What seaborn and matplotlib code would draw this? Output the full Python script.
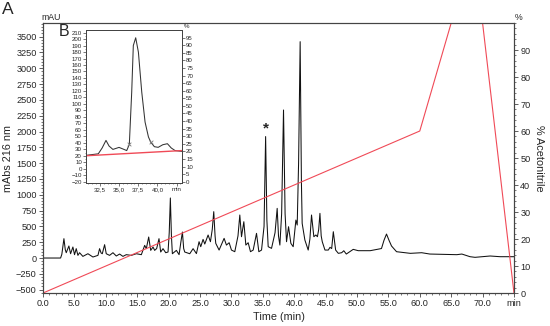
import matplotlib
matplotlib.use("Agg")
import matplotlib.pyplot as plt
import seaborn as sns
import pandas as pd
from matplotlib.ticker import MultipleLocator

# main chromatogram
time_min = [0.0, 2.8, 3.0, 3.33, 3.55, 3.70, 4.12, 4.39, 4.76, 5.02, 5.29, 5.56, 5.82, 6.35,
            7.15, 7.95, 8.75, 9.01, 9.25, 9.44, 9.81, 10.07, 10.6, 11.14, 11.67, 12.2, 12.73,
            13.26, 14.06, 14.86, 15.66, 16.19, 16.45, 16.83, 17.15, 17.52, 17.78, 18.1, 18.47,
            18.74, 19.11, 19.54, 19.91, 20.1, 20.28, 20.45, 20.6, 21.24, 21.67, 21.95, 22.2,
            22.4, 22.57, 23.37, 23.9, 24.43, 24.85, 25.12, 25.49, 25.76, 26.29, 26.66, 26.95,
            27.19, 27.4, 27.51, 28.04, 28.84, 29.21, 29.64, 30.01, 30.54, 31.05, 31.34, 31.61,
            31.98, 32.3, 32.67, 33.04, 33.47, 34.0, 34.37, 34.8, 35.2, 35.45, 35.65, 35.86,
            36.39, 36.95, 37.29, 37.5, 37.72, 38.0, 38.3, 38.55, 38.78, 39.1, 39.47, 39.84,
            40.27, 40.48, 40.7, 40.95, 41.15, 41.27, 41.7, 42.23, 42.5, 42.76, 43.13, 43.45,
            43.7, 43.9, 44.1, 44.3, 44.47, 44.9, 45.43, 45.7, 45.97, 46.23, 46.6, 47.03, 47.56,
            47.9, 48.3, 49.4, 50.2, 52.1, 53.9, 54.3, 54.7, 55.1, 55.5, 56.3, 58.5, 60.3, 61.6,
            65.9, 66.7, 68.0, 68.8, 71.2, 72.8, 75.0]
mabs = [0, 0, 60, 306, 130, 84, 190, 68, 174, 53, 148, 42, 84, 26,
        68, 16, 42, 148, 80, 68, 211, 68, 42, 84, 32, 63, 26,
        53, 42, 68, 53, 200, 148, 332, 121, 174, 121, 150, 306,
        95, 148, 84, 95, 400, 949, 350, 68, 121, 53, 250, 411,
        150, 95, 68, 148, 70, 258, 179, 295, 221, 364, 258, 450,
        733, 350, 232, 126, 311, 205, 242, 126, 100, 350, 680, 337,
        574, 205, 242, 100, 126, 390, 100, 126, 500, 1920, 600, 179,
        153, 400, 785, 350, 205, 700, 2340, 700, 258, 495, 232, 179,
        600, 522, 1500, 3420, 1200, 548, 285, 126, 300, 680, 337, 364,
        337, 450, 706, 350, 258, 126, 126, 169, 150, 416, 126, 74, 84,
        115, 63, 137, 116, 116, 150, 280, 379, 280, 190, 100, 74, 84, 63,
        53, 63, 21, 11, 32, 21, 21]

# acetonitrile gradient
grad_time = [0, 60, 65, 70, 75]
grad_acn = [0, 60, 100, 100, 0]

# inset B
inset_time = [30.6, 32.3, 32.8, 33.3, 33.7, 34.2, 35.0, 35.6, 36.0, 36.34, 36.65, 36.86,
              37.17, 37.52, 37.96, 38.39, 38.83, 39.13, 39.6, 40.1, 40.7, 41.3, 41.8, 42.3, 43.2]
inset_mabs = [20.5, 23, 32, 43.7, 35, 29.8, 32.9, 30, 28, 37.5, 118, 190,
              202, 180, 118, 72, 49, 41, 34, 33, 37, 38.6, 32, 28, 26.7]
inset_base_time = [30.7, 43.2]
inset_base_mabs = [20, 28]
inset_mark_time = [36.34, 39.13]
inset_mark_mabs = [37.5, 41]

star_time = 35.45
star_mabs = 1920

x_ticks = [0, 5, 10, 15, 20, 25, 30, 35, 40, 45, 50, 55, 60, 65, 70, 75]
x_labels = ["0.0", "5.0", "10.0", "15.0", "20.0", "25.0", "30.0", "35.0", "40.0", "45.0",
            "50.0", "55.0", "60.0", "65.0", "70.0", "min"]
inset_x_ticks = [32.5, 35.0, 37.5, 40.0, 42.5]
inset_x_labels = ["32,5", "35,0", "37,5", "40,0", "min"]

sns.set_style("ticks")
plt.rcParams["font.family"] = ["Liberation Sans", "DejaVu Sans"]

red = "#f04a57"
frame = "#444444"

fig = plt.figure(figsize=(5.5, 3.26), dpi=100)
ax = fig.add_axes([0.0782, 0.1012, 0.8563, 0.8282])

df = pd.DataFrame({"t": time_min, "v": mabs})
sns.lineplot(data=df, x="t", y="v", ax=ax, color="#111111", lw=0.75, estimator=None, sort=False)
ax.set_xlim(0, 75)
ax.set_xticks(x_ticks)
ax.set_xticklabels(x_labels)
ax.set_yticks(range(-500, 3501, 250))
ax.yaxis.set_minor_locator(MultipleLocator(50))
ax.xaxis.set_minor_locator(MultipleLocator(1))
ax.set_ylim(-553, 3715)
ax.set_xlabel("Time (min)", fontsize=7.8, labelpad=3)
ax.set_ylabel("mAbs 216 nm", fontsize=7.8, labelpad=2)
ax.tick_params(labelsize=6.6, length=3, width=0.6, pad=1.5, color=frame)
ax.tick_params(which="minor", length=1.5, width=0.5, color=frame)
for s in ax.spines.values():
    s.set_linewidth(0.8)
    s.set_color(frame)
ax.text(star_time, star_mabs + 10, "*", ha="center", va="bottom", fontsize=11, fontweight="bold")

ax2 = ax.twinx()
sns.lineplot(x=grad_time, y=grad_acn, ax=ax2, color=red, lw=0.8, estimator=None, sort=False)
ax2.set_ylim(0, 100)
ax2.set_yticks(range(0, 91, 10))
ax2.yaxis.set_minor_locator(MultipleLocator(2))
ax2.set_ylabel("% Acetonitrile", fontsize=7.8, rotation=270, labelpad=10)
ax2.tick_params(labelsize=6.6, length=3, width=0.6, pad=1.5, color=frame)
ax2.tick_params(which="minor", length=1.5, width=0.5, color=frame)
for s in ax2.spines.values():
    s.set_linewidth(0.8)
    s.set_color(frame)

fig.text(0.076, 0.933, "mAU", fontsize=6.3, ha="left", va="bottom")
fig.text(0.936, 0.933, "%", fontsize=6.3, ha="left", va="bottom")
fig.text(0.004, 0.995, "A", fontsize=12.5, ha="left", va="top")
fig.text(0.106, 0.925, "B", fontsize=11.5, ha="left", va="top")

# inset
axi = fig.add_axes([0.1564, 0.4387, 0.1745, 0.4693])
sns.lineplot(x=inset_time, y=inset_mabs, ax=axi, color="#333333", lw=0.75, estimator=None, sort=False)
sns.lineplot(x=inset_base_time, y=inset_base_mabs, ax=axi, color=red, lw=1.0, estimator=None, sort=False)
axi.scatter(inset_mark_time, inset_mark_mabs, marker="x", s=7, color="#777777", lw=0.6, zorder=3)
axi.set_xlim(30.7, 43.2)
axi.set_ylim(-22, 214)
axi.set_xticks(inset_x_ticks)
axi.set_xticklabels(inset_x_labels)
axi.xaxis.set_minor_locator(MultipleLocator(0.5))
axi.set_yticks(range(-20, 211, 10))
axi.yaxis.set_minor_locator(MultipleLocator(5))
axi.set_xlabel("")
axi.set_ylabel("")
axi.tick_params(labelsize=4.4, length=2, width=0.5, pad=1, color=frame)
axi.tick_params(which="minor", length=1, width=0.4, color=frame)
for s in axi.spines.values():
    s.set_linewidth(0.7)
    s.set_color(frame)

axi2 = axi.twinx()
axi2.set_ylim(-0.85, 100)
axi2.set_yticks(range(0, 96, 5))
axi2.tick_params(labelsize=4.4, length=2, width=0.5, pad=1, color=frame)
for s in axi2.spines.values():
    s.set_linewidth(0.7)
    s.set_color(frame)
fig.text(0.334, 0.912, "%", fontsize=4.4, ha="left", va="bottom")

fig.savefig("out.png", dpi=100)
